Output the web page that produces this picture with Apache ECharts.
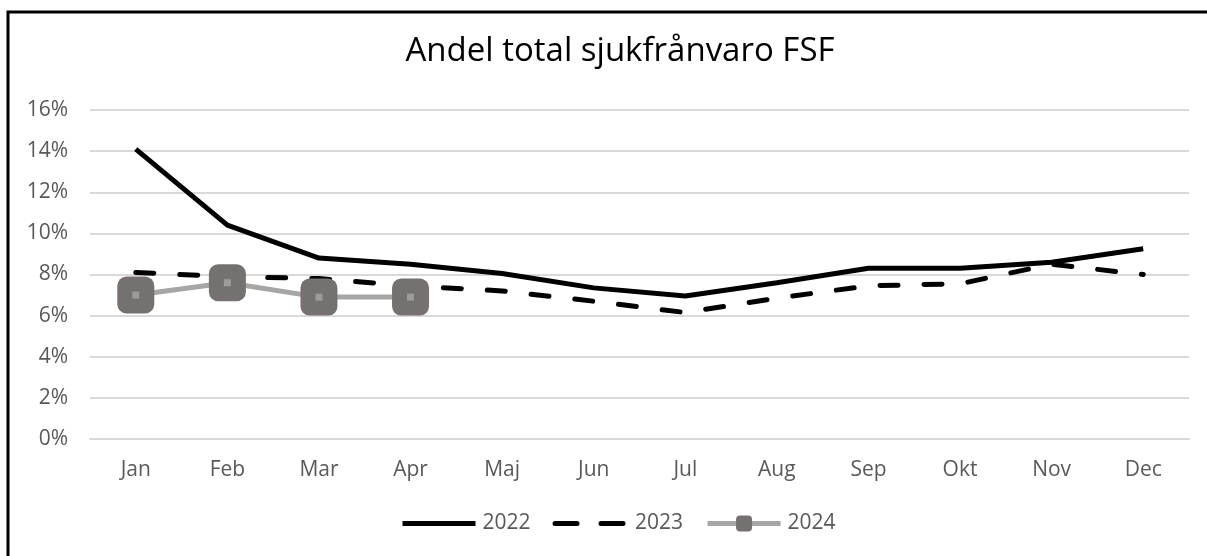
<!DOCTYPE html>
<html>
<head>
<meta charset="utf-8">
<script src="https://cdn.jsdelivr.net/npm/echarts@6/dist/echarts.min.js"></script>
<style>
  html, body { margin: 0; padding: 0; background: #fff; }
  #main { width: 1207px; height: 556px; }
</style>
</head>
<body>
<div id="main"></div>
<script>
var months = ['Jan', 'Feb', 'Mar', 'Apr', 'Maj', 'Jun', 'Jul', 'Aug', 'Sep', 'Okt', 'Nov', 'Dec']
var y2022 = [14.1, 10.4, 8.8, 8.5, 8.05, 7.35, 6.95, 7.6, 8.3, 8.3, 8.6, 9.25]
var y2023 = [8.1, 7.9, 7.8, 7.45, 7.2, 6.7, 6.15, 6.85, 7.45, 7.55, 8.5, 8.0]
var y2024 = [7.0, 7.6, 6.9, 6.9]

var font = 'Open Sans'
var chart = echarts.init(document.getElementById('main'))

var option = {
  animation: false,
  textStyle: { fontFamily: font },
  title: {
    text: 'Andel total sjukfrånvaro FSF',
    left: 615,
    textAlign: 'center',
    top: 30,
    textStyle: { fontFamily: font, fontSize: 33, fontWeight: 'normal', color: '#000' }
  },
  graphic: [{
    type: 'rect',
    shape: { x: 8, y: 12, width: 1400, height: 800 },
    style: { fill: 'none', stroke: '#000', lineWidth: 3 },
    silent: true
  }],
  legend: {
    data: [
      { name: '2022', itemStyle: { opacity: 0 }, lineStyle: { width: 5 } },
      { name: '2023', itemStyle: { opacity: 0 }, lineStyle: { width: 5, type: [22, 24], cap: 'round' } },
      { name: '2024', lineStyle: { width: 5 } }
    ],
    bottom: 17,
    left: 395,
    itemWidth: 73,
    itemHeight: 20,
    itemGap: 22,
    textStyle: { fontFamily: font, fontSize: 21, color: '#595959', padding: [0, 0, 0, 2] }
  },
  grid: { left: 90, right: 18, top: 110, bottom: 117 },
  xAxis: {
    type: 'category',
    data: months,
    axisLine: { lineStyle: { color: '#d9d9d9', width: 2 } },
    axisTick: { show: false },
    axisLabel: { color: '#595959', fontSize: 21, margin: 21 }
  },
  yAxis: {
    type: 'value',
    min: 0,
    max: 16,
    interval: 2,
    axisLabel: { formatter: '{value}%', color: '#595959', fontSize: 21, margin: 22 },
    splitLine: { lineStyle: { color: '#d9d9d9', width: 2 } }
  },
  series: [
    {
      name: '2022',
      type: 'line',
      data: y2022,
      symbol: 'none',
      lineStyle: { color: '#000', width: 5 },
      itemStyle: { color: '#000' },
      z: 3
    },
    {
      name: '2023',
      type: 'line',
      data: y2023,
      symbol: 'none',
      lineStyle: { color: '#000', width: 5, type: [18, 26], cap: 'round' },
      itemStyle: { color: '#000' },
      z: 2
    },
    {
      name: '2024',
      type: 'line',
      data: y2024,
      symbol: 'roundRect',
      symbolSize: 37,
      lineStyle: { color: '#a6a6a6', width: 5 },
      itemStyle: { color: '#767171' },
      z: 4
    },
    {
      name: '2024 dot',
      type: 'scatter',
      data: y2024,
      symbol: 'rect',
      symbolSize: 7,
      itemStyle: { color: '#a6a6a6' },
      silent: true,
      z: 5
    }
  ]
}

chart.setOption(option)
</script>
</body>
</html>
